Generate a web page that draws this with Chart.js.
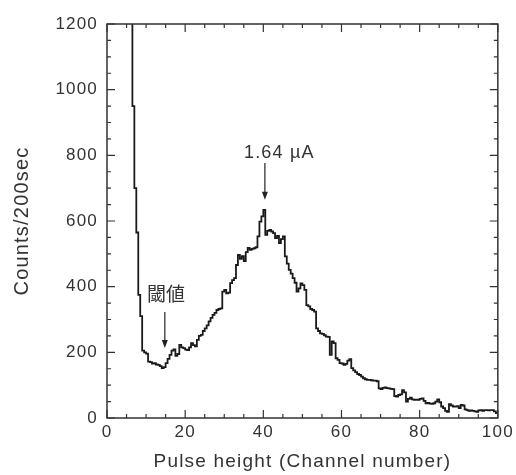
<!DOCTYPE html>
<html>
<head>
<meta charset="utf-8">
<script src="https://cdn.jsdelivr.net/npm/chart.js@4.4.1/dist/chart.umd.min.js"></script>
<style>
  html, body { margin: 0; padding: 0; background: #fff; }
  #wrap { width: 516px; height: 475px; position: relative; }
</style>
</head>
<body>
<div id="wrap"><canvas id="phChart"></canvas></div>
<script>
// pulse height spectrum, 0.5 channel bins starting at channel 6
const binStart = 6;
const binWidth = 0.5;
const counts = [
  1500, 950, 700, 565, 375, 310, 205, 200, 196, 172,
  170, 166, 167, 163, 162, 158, 152, 155, 167, 180,
  192, 205, 209, 189, 195, 223, 215, 213, 208, 207,
  215, 228, 222, 218, 238, 250, 253, 265, 273, 282,
  294, 305, 314, 320, 329, 332, 334, 385, 390, 380,
  382, 411, 420, 426, 466, 497, 485, 493, 478, 505,
  518, 512, 515, 517, 520, 553, 598, 614, 634, 558,
  570, 573, 568, 563, 548, 555, 533, 545, 553, 492,
  470, 451, 440, 426, 412, 385, 395, 410, 405, 390,
  344, 340, 332, 329, 324, 273, 265, 258, 256, 252,
  248, 247, 192, 233, 228, 182, 177, 167, 166, 162,
  165, 175, 179, 152, 145, 140, 134, 131, 126, 121,
  118, 116, 116, 115, 114, 114, 112, 90, 88, 92,
  93, 91, 90, 89, 88, 67, 65, 70, 72, 85,
  78, 50, 58, 62, 57, 55, 56, 55, 58, 60,
  52, 45, 46, 44, 43, 45, 50, 57, 48, 35,
  30, 22, 19, 42, 38, 35, 35, 36, 30, 40,
  38, 26, 24, 22, 23, 22, 20, 19, 23, 24,
  22, 24, 24, 23, 24, 24, 20, 15, 15
];
const xTicks = [0, 20, 40, 60, 80, 100];
const yTicks = [0, 200, 400, 600, 800, 1000, 1200];

const points = counts.map((c, i) => ({ x: binStart + i * binWidth, y: c }));

const textColor = '#333';
const latin = '"Liberation Sans", Arial, sans-serif';

// box frame with inward ticks on all four sides
const frameTicks = {
  id: 'frameTicks',
  afterDraw(chart) {
    const { ctx, chartArea: a, scales: { x, y } } = chart;
    ctx.save();
    ctx.strokeStyle = '#333';
    ctx.lineWidth = 1.5;
    ctx.strokeRect(a.left, a.top, a.right - a.left, a.bottom - a.top);
    ctx.lineWidth = 1.2;
    ctx.beginPath();
    for (let v = 0; v <= 100; v += 5) {
      const px = x.getPixelForValue(v);
      const len = v % 20 === 0 ? 8 : 4;
      ctx.moveTo(px, a.bottom); ctx.lineTo(px, a.bottom - len);
      ctx.moveTo(px, a.top); ctx.lineTo(px, a.top + len);
    }
    for (let v = 0; v <= 1200; v += 50) {
      const py = y.getPixelForValue(v);
      const len = v % 200 === 0 ? 8 : 4;
      ctx.moveTo(a.left, py); ctx.lineTo(a.left + len, py);
      ctx.moveTo(a.right, py); ctx.lineTo(a.right - len, py);
    }
    ctx.stroke();
    ctx.restore();
  }
};

// text labels with down arrows
const notes = {
  id: 'notes',
  beforeDraw(chart) {
    chart.ctx.letterSpacing = '1.2px';
  },
  afterDraw(chart) {
    const { ctx, scales: { x, y } } = chart;
    const arrow = (xv, y0, y1) => {
      const px = x.getPixelForValue(xv);
      const top = y.getPixelForValue(y0);
      const tip = y.getPixelForValue(y1);
      ctx.beginPath();
      ctx.moveTo(px, top); ctx.lineTo(px, tip - 6);
      ctx.stroke();
      ctx.beginPath();
      ctx.moveTo(px, tip);
      ctx.lineTo(px - 3, tip - 8);
      ctx.lineTo(px + 3, tip - 8);
      ctx.closePath();
      ctx.fill();
    };
    ctx.save();
    ctx.strokeStyle = '#222';
    ctx.fillStyle = '#222';
    ctx.lineWidth = 1.2;
    arrow(40.4, 777, 665);
    arrow(14.8, 323, 213);
    ctx.fillStyle = textColor;
    ctx.textAlign = 'center';
    ctx.textBaseline = 'middle';
    ctx.font = '18px ' + latin;
    ctx.fillText('1.64 \u00b5A', x.getPixelForValue(44.1), y.getPixelForValue(808));
    ctx.letterSpacing = '0px';
    ctx.font = '19px "Noto Sans CJK JP", sans-serif';
    ctx.fillText('閾値', x.getPixelForValue(15.1), y.getPixelForValue(378));
    ctx.restore();
  }
};

new Chart(document.getElementById('phChart'), {
  type: 'line',
  data: {
    datasets: [{
      data: points,
      stepped: true,
      borderColor: '#1a1a1a',
      borderWidth: 1.8,
      pointRadius: 0,
      fill: false
    }]
  },
  options: {
    responsive: true,
    maintainAspectRatio: false,
    animation: false,
    layout: { padding: { top: 24, right: 17, left: 0, bottom: 0 } },
    plugins: { legend: { display: false }, tooltip: { enabled: false } },
    scales: {
      x: {
        type: 'linear',
        min: 0,
        max: 100,
        afterBuildTicks: s => { s.ticks = xTicks.map(v => ({ value: v })); },
        afterFit: s => { s.height = 57; },
        grid: { display: false, drawTicks: false },
        border: { display: false },
        ticks: { color: textColor, font: { family: latin, size: 17 }, padding: 4, maxRotation: 0, callback: v => String(v) },
        title: {
          display: true,
          text: 'Pulse height (Channel number)',
          color: textColor,
          font: { family: latin, size: 19 },
          padding: { top: 0, bottom: 2 }
        }
      },
      y: {
        min: 0,
        max: 1200,
        afterBuildTicks: s => { s.ticks = yTicks.map(v => ({ value: v })); },
        afterFit: s => { s.width = 107; },
        grid: { display: false, drawTicks: false },
        border: { display: false },
        ticks: { color: textColor, font: { family: latin, size: 17 }, padding: 9, callback: v => String(v) },
        title: {
          display: true,
          text: 'Counts/200sec',
          color: textColor,
          font: { family: latin, size: 20 },
          padding: { top: 10, bottom: 0 }
        }
      }
    }
  },
  plugins: [frameTicks, notes]
});
</script>
</body>
</html>
